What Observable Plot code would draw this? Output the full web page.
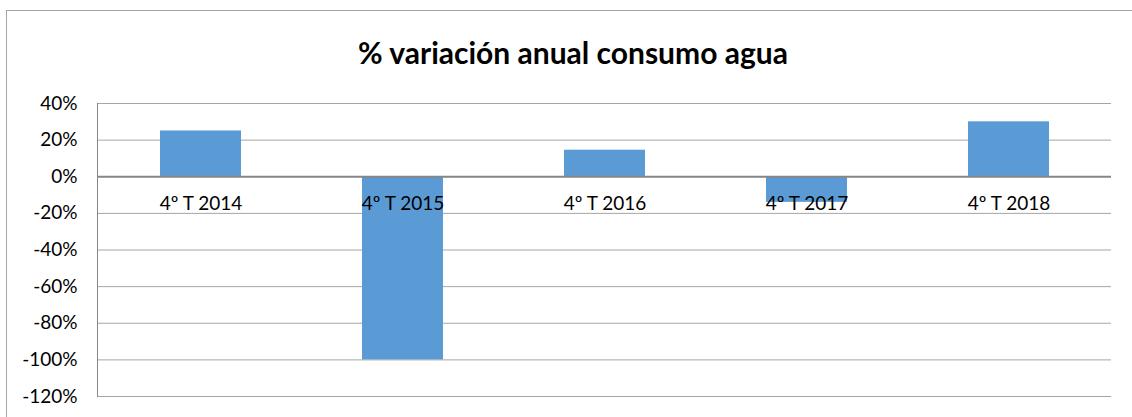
<!DOCTYPE html>
<html>
<head>
<meta charset="utf-8">
<script src="https://cdn.jsdelivr.net/npm/d3@7"></script>
<script src="https://cdn.jsdelivr.net/npm/@observablehq/plot@0.6"></script>
<style>
  html, body { margin: 0; padding: 0; background: #fff; overflow: hidden; width: 1132px; height: 417px; }
  #border { position: absolute; left: 6px; top: 10px; width: 1140px; height: 500px; border: 1px solid #a6a6a6; box-sizing: border-box; }
  #title { position: absolute; left: 6px; width: 1134px; top: 33px; text-align: center; font-family: Lato, sans-serif; font-weight: bold; font-size: 30px; line-height: 38px; color: #000; }
  #chart { position: absolute; left: 0; top: 0; }
  #chart svg { background: transparent; }
</style>
</head>
<body>
<div id="border"></div>
<div id="chart"></div>
<div id="title"></div>
<script>
const title = "% variación anual consumo agua";
const categories = ["4º T 2014", "4º T 2015", "4º T 2016", "4º T 2017", "4º T 2018"];
const values = [25, -100, 14.5, -14, 30];
const yTicks = [40, 20, 0, -20, -40, -60, -80, -100, -120];

document.getElementById("title").textContent = title;

const data = categories.map((c, i) => ({category: c, value: values[i]}));

const chart = Plot.plot({
  width: 1132,
  height: 417,
  marginLeft: 97,
  marginRight: 21,
  marginTop: 103,
  marginBottom: 21,
  style: {fontFamily: "Lato, sans-serif", fontSize: "19px", color: "#000", background: "transparent"},
  x: {domain: categories, paddingInner: 0.6, paddingOuter: 0.3, axis: null},
  y: {domain: [-120, 40], ticks: yTicks, tickFormat: d => `${d}%`, tickSize: 0, tickPadding: 20, label: null},
  marks: [
    Plot.ruleY(yTicks.filter(d => d !== 0), {stroke: "#a6a6a6", strokeWidth: 1}),
    Plot.barY(data, {x: "category", y: "value", fill: "#5b9bd5"}),
    Plot.ruleY([0], {stroke: "#868686", strokeWidth: 2}),
    Plot.frame({anchor: "left", stroke: "#868686"}),
    Plot.text(data, {x: "category", y: 0, text: "category", dy: 27, lineAnchor: "middle", fill: "#000", fontSize: 19})
  ]
});
document.getElementById("chart").appendChild(chart);
</script>
</body>
</html>
